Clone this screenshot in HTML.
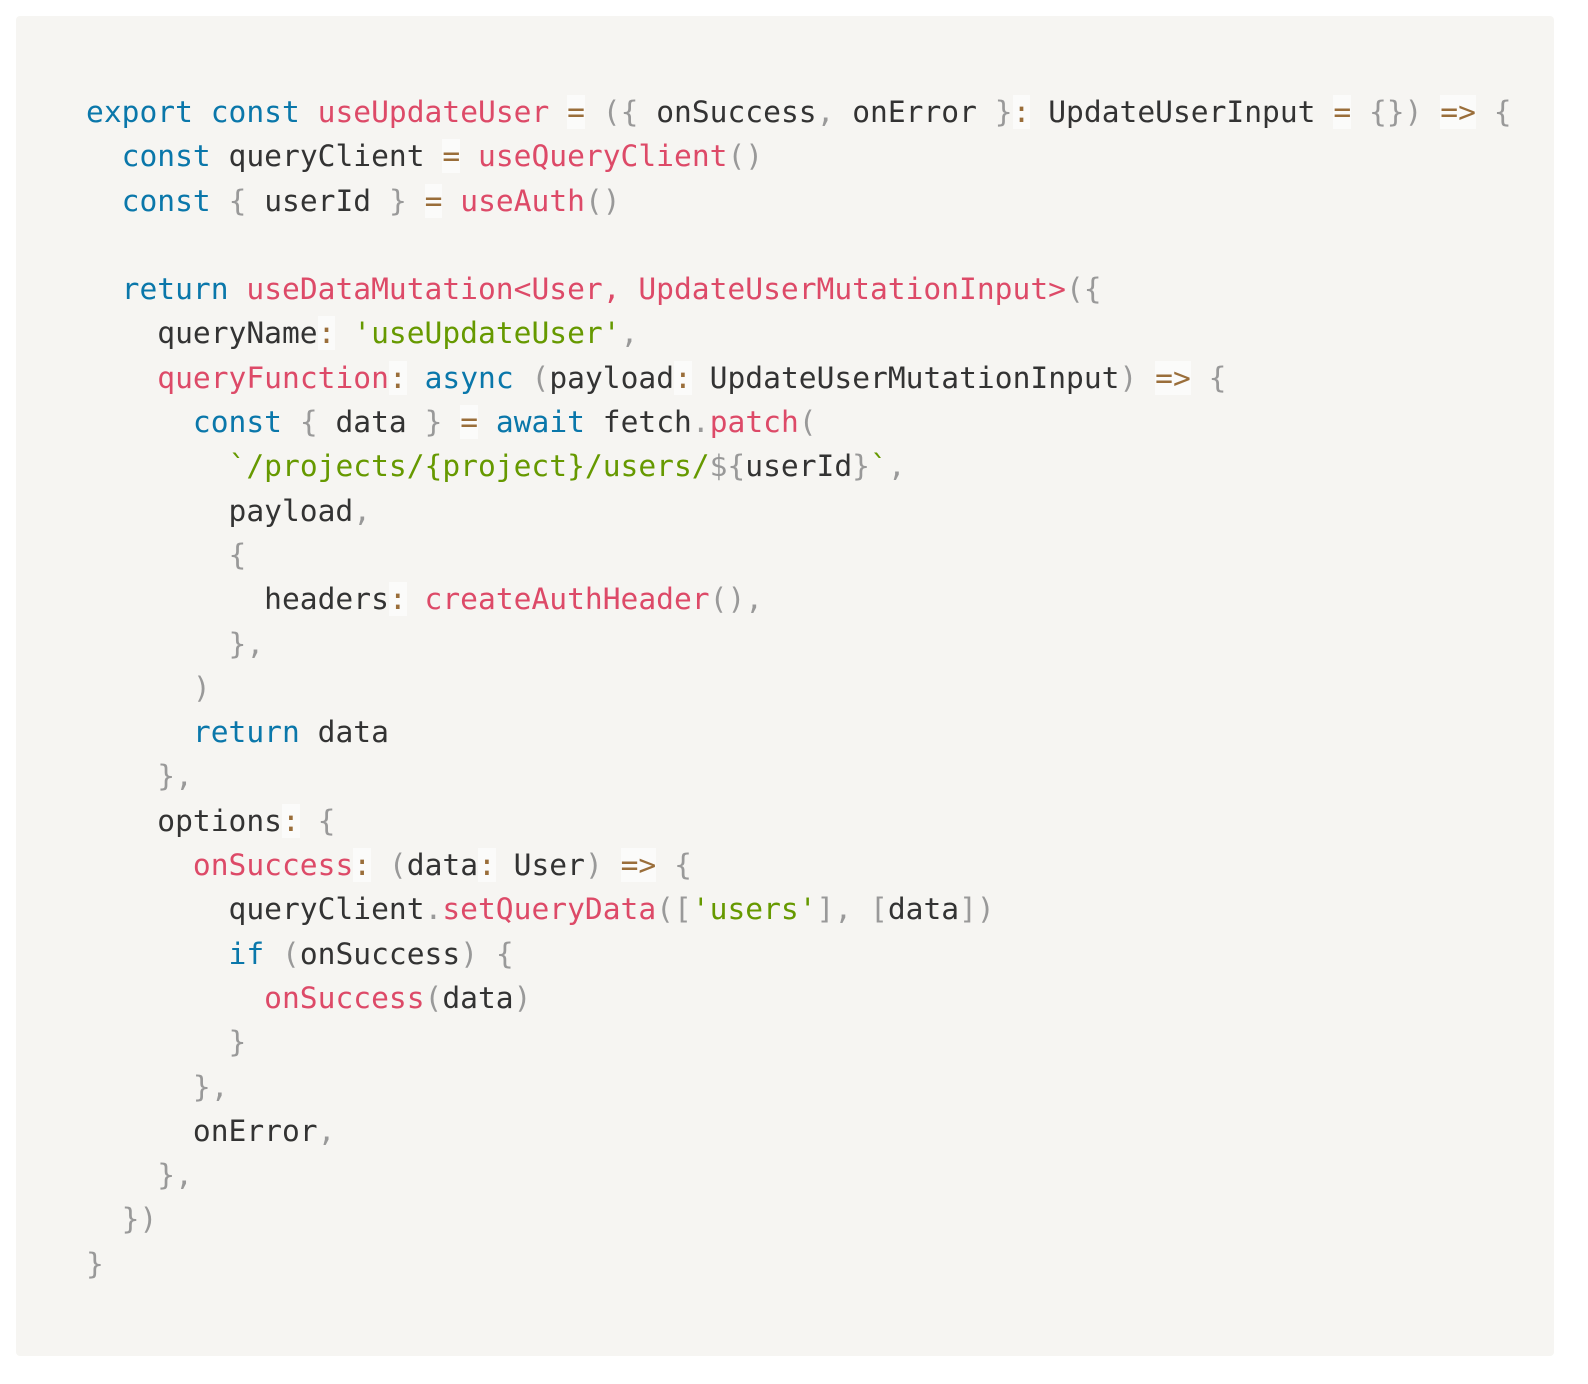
<!DOCTYPE html>
<html><head><meta charset="utf-8"><style>
html,body{margin:0;padding:0;background:#fff;}
body{width:1588px;height:1384px;position:relative;overflow:hidden;}
.box{position:absolute;left:16px;top:16px;width:1538px;height:1340px;background:#f6f5f2;border-radius:4px;}
pre{position:absolute;left:70px;top:74px;margin:0;font-family:"DejaVu Sans Mono","Liberation Mono",monospace;font-size:29.6px;line-height:44.3px;color:#333;white-space:pre;}
.k{color:#0a77aa}.f{color:#dd4a68}.s{color:#669900}.p{color:#999}.o{color:#9a6e3a;background:rgba(255,255,255,.6)}
</style></head><body><div class="box"><pre><span class="k">export</span> <span class="k">const</span> <span class="f">useUpdateUser</span> <span class="o">=</span> <span class="p">({</span> onSuccess<span class="p">,</span> onError <span class="p">}</span><span class="o">:</span> UpdateUserInput <span class="o">=</span> <span class="p">{})</span> <span class="o">=&gt;</span> <span class="p">{</span>
  <span class="k">const</span> queryClient <span class="o">=</span> <span class="f">useQueryClient</span><span class="p">()</span>
  <span class="k">const</span> <span class="p">{</span> userId <span class="p">}</span> <span class="o">=</span> <span class="f">useAuth</span><span class="p">()</span>

  <span class="k">return</span> <span class="f">useDataMutation&lt;User, UpdateUserMutationInput&gt;</span><span class="p">({</span>
    queryName<span class="o">:</span> <span class="s">'useUpdateUser'</span><span class="p">,</span>
    <span class="f">queryFunction</span><span class="o">:</span> <span class="k">async</span> <span class="p">(</span>payload<span class="o">:</span> UpdateUserMutationInput<span class="p">)</span> <span class="o">=&gt;</span> <span class="p">{</span>
      <span class="k">const</span> <span class="p">{</span> data <span class="p">}</span> <span class="o">=</span> <span class="k">await</span> fetch<span class="p">.</span><span class="f">patch</span><span class="p">(</span>
        <span class="s">`/projects/{project}/users/</span><span class="p">${</span>userId<span class="p">}</span><span class="s">`</span><span class="p">,</span>
        payload<span class="p">,</span>
        <span class="p">{</span>
          headers<span class="o">:</span> <span class="f">createAuthHeader</span><span class="p">(),</span>
        <span class="p">},</span>
      <span class="p">)</span>
      <span class="k">return</span> data
    <span class="p">},</span>
    options<span class="o">:</span> <span class="p">{</span>
      <span class="f">onSuccess</span><span class="o">:</span> <span class="p">(</span>data<span class="o">:</span> User<span class="p">)</span> <span class="o">=&gt;</span> <span class="p">{</span>
        queryClient<span class="p">.</span><span class="f">setQueryData</span><span class="p">([</span><span class="s">'users'</span><span class="p">],</span> <span class="p">[</span>data<span class="p">])</span>
        <span class="k">if</span> <span class="p">(</span>onSuccess<span class="p">)</span> <span class="p">{</span>
          <span class="f">onSuccess</span><span class="p">(</span>data<span class="p">)</span>
        <span class="p">}</span>
      <span class="p">},</span>
      onError<span class="p">,</span>
    <span class="p">},</span>
  <span class="p">})</span>
<span class="p">}</span></pre></div></body></html>
